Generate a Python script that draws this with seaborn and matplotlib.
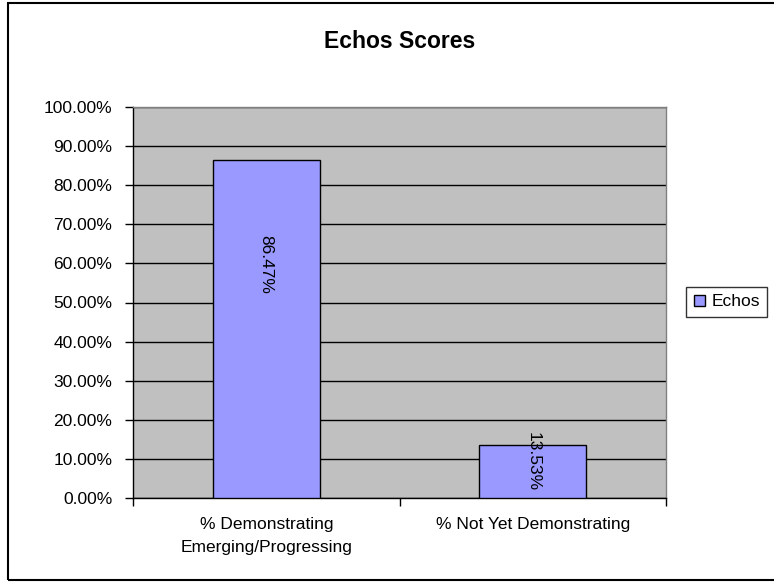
import matplotlib
matplotlib.use("Agg")
import matplotlib.pyplot as plt
import seaborn as sns
import pandas as pd
from matplotlib.patches import Rectangle
from matplotlib.ticker import MultipleLocator, FuncFormatter

sns.set_style("white")
plt.rcParams['font.family'] = ['Liberation Sans', 'DejaVu Sans']
plt.rcParams['text.color'] = 'black'
plt.rcParams['xtick.color'] = 'black'
plt.rcParams['ytick.color'] = 'black'
plt.rcParams['xtick.labelcolor'] = 'black'
plt.rcParams['ytick.labelcolor'] = 'black'

categories = ['% Demonstrating\nEmerging/Progressing', '% Not Yet Demonstrating']
values = [86.47, 13.53]
series_name = 'Echos'
title = 'Echos Scores'

df = pd.DataFrame({'category': categories, 'value': values, 'series': series_name})

fig = plt.figure(figsize=(7.74, 5.86), dpi=100)
ax = fig.add_axes([133 / 774, 1 - 498 / 586, 533 / 774, 391 / 586])
ax.set_facecolor('#C0C0C0')

sns.barplot(data=df, x='category', y='value', hue='series', palette=['#9999FF'],
            saturation=1, width=0.4, edgecolor='black', linewidth=1, ax=ax,
            legend=True, zorder=3)

ax.set_ylim(0, 100)
ax.set_xlim(-0.5, 1.5)
ax.yaxis.set_major_locator(MultipleLocator(10))
ax.yaxis.set_major_formatter(FuncFormatter(lambda v, p: f"{v:.2f}%"))
ax.grid(axis='y', color='black', linewidth=1, zorder=1)
ax.set_axisbelow(True)
ax.set_xlabel('')
ax.set_ylabel('')

fs = 12.5

# data labels, rotated like Excel
for i, v in enumerate(values):
    ax.text(i, v * 0.69, f"{v:.2f}%", rotation=-90, ha='center', va='center',
            fontsize=fs, color='black', zorder=5)

ax.tick_params(axis='y', which='both', left=True, length=6, width=1, color='black',
               labelsize=fs, pad=9)
ax.set_xticks([0, 1])
ax.set_xticklabels(categories, fontsize=fs, linespacing=1.65)
ax.tick_params(axis='x', length=0, pad=14)
# category boundary ticks
ax.set_xticks([-0.5, 0.5, 1.5], minor=True)
ax.tick_params(axis='x', which='minor', bottom=True, length=6, width=1, color='black')

for s in ['left', 'bottom']:
    ax.spines[s].set_color('black')
    ax.spines[s].set_linewidth(1)
for s in ['top', 'right']:
    ax.spines[s].set_color('#808080')
    ax.spines[s].set_linewidth(1)

fig.text(0.5 * (133 + 666) / 774, 1 - 41 / 586, title, ha='center', va='center',
         fontsize=16.5, fontweight='bold', color='black')

leg = ax.legend(loc='center left', bbox_to_anchor=(686 / 774, 1 - 302 / 586),
                bbox_transform=fig.transFigure, frameon=True, fancybox=False,
                fontsize=fs, handlelength=0.65, handleheight=0.65, handletextpad=0.35,
                borderpad=0.45, borderaxespad=0)
leg.get_frame().set_edgecolor('black')
leg.get_frame().set_linewidth(1)
for h in leg.legend_handles:
    h.set_edgecolor('black')
for t in leg.get_texts():
    t.set_color('black')

fig.patches.append(Rectangle((8 / 774, 6 / 586), 1.0, 1 - 9 / 586, transform=fig.transFigure,
                             fill=False, edgecolor='black', linewidth=1.5, zorder=0))

fig.savefig('out.png', dpi=100)
